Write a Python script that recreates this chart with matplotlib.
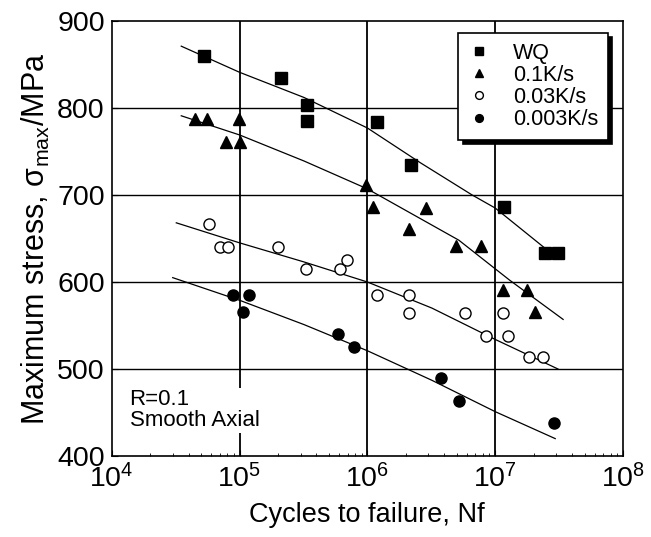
import numpy as np
import matplotlib
matplotlib.use('Agg')
import matplotlib.pyplot as plt

plt.rcParams['font.family'] = ['Liberation Sans', 'DejaVu Sans']
plt.rcParams['mathtext.fontset'] = 'custom'
plt.rcParams['mathtext.rm'] = 'Liberation Sans'
plt.rcParams['mathtext.it'] = 'Liberation Sans'

# data
wq_n = [5.3e4, 2.1e5, 3.4e5, 3.4e5, 1.18e6, 2.2e6, 1.18e7, 2.47e7, 3.1e7]
wq_s = [860, 834, 803, 785, 784, 735, 686, 633, 633]

k01_n = [4.5e4, 5.6e4, 9.9e4, 7.8e4, 1.0e5, 9.8e5, 1.1e6, 2.9e6, 2.1e6, 4.9e6, 7.8e6, 1.15e7, 1.77e7, 2.05e7]
k01_s = [787, 787, 787, 761, 761, 711, 686, 685, 661, 641, 641, 591, 591, 566]

k003_n = [5.8e4, 7.0e4, 8.1e4, 2.0e5, 3.3e5, 6.1e5, 6.9e5, 1.18e6, 2.1e6, 2.1e6, 5.8e6, 1.15e7, 8.5e6, 1.25e7, 1.83e7, 2.35e7]
k003_s = [667, 640, 640, 640, 615, 615, 625, 585, 585, 564, 564, 564, 538, 538, 514, 514]

k0003_n = [8.9e4, 1.18e5, 1.07e5, 5.9e5, 7.8e5, 3.8e6, 5.2e6, 2.9e7]
k0003_s = [585, 585, 566, 540, 525, 490, 463, 438]

# fitted curves
wq_fit_n = [3.5e4, 1e5, 3.2e5, 1e6, 2.6e6, 6.6e6, 1e7, 2.8e7]
wq_fit_s = [871, 841, 812, 777, 737, 700, 685, 632]
k01_fit_n = [3.5e4, 1e5, 3.2e5, 1e6, 5.2e6, 1.3e7, 3.4e7]
k01_fit_s = [791, 769, 739, 707, 648, 602, 557]
k003_fit_n = [3.2e4, 1e5, 3.2e5, 1e6, 3.2e6, 1e7, 3.1e7]
k003_fit_s = [668, 645, 623, 600, 570, 534, 500]
k0003_fit_n = [3.0e4, 1e5, 3.2e5, 1e6, 3.2e6, 1e7, 2.95e7]
k0003_fit_s = [605, 579, 551, 521, 487, 451, 420]

fig = plt.figure(figsize=(6.51, 5.37), dpi=100)
ax = fig.add_axes([0.1716, 0.1508, 0.7854, 0.8102])
ax.set_xscale('log')
ax.set_xlim(1e4, 1e8)
ax.set_ylim(400, 900)

for v in [1e5, 1e6, 1e7]:
    ax.axvline(v, color='black', lw=1.3, zorder=1)
for v in [500, 600, 700, 800]:
    ax.axhline(v, color='black', lw=1.0, zorder=1)

for n, s in [(wq_fit_n, wq_fit_s), (k01_fit_n, k01_fit_s), (k003_fit_n, k003_fit_s), (k0003_fit_n, k0003_fit_s)]:
    ax.plot(n, s, color='black', lw=0.9, zorder=2)

ax.plot(wq_n, wq_s, 's', color='black', ms=8.5, ls='none', label='WQ', zorder=3)
ax.plot(k01_n, k01_s, '^', color='black', ms=8.5, ls='none', label='0.1K/s', zorder=3)
ax.plot(k003_n, k003_s, 'o', mfc='white', mec='black', mew=1.0, ms=8, ls='none', label='0.03K/s', zorder=3)
ax.plot(k0003_n, k0003_s, 'o', color='black', ms=8, ls='none', label='0.003K/s', zorder=3)

leg = ax.legend(loc='upper right', bbox_to_anchor=(0.971, 0.972), fontsize=15.5, markerscale=0.7,
                handlelength=1.0, handletextpad=1.1, labelspacing=0.05, borderpad=0.45,
                borderaxespad=0, fancybox=False, framealpha=1, edgecolor='black',
                shadow={'color': 'black', 'alpha': 1, 'ox': 3, 'oy': -3})
leg.get_frame().set_linewidth(1.2)

ax.text(0.035, 0.105, 'R=0.1\nSmooth Axial', transform=ax.transAxes, fontsize=16,
        ha='left', va='center', linespacing=1.0, zorder=4,
        bbox=dict(facecolor='white', edgecolor='none', pad=1))

ax.set_yticks([400, 500, 600, 700, 800, 900])
ax.set_xticks([1e4, 1e5, 1e6, 1e7, 1e8])
ax.tick_params(axis='both', which='major', direction='in', length=4, labelsize=20.5)
ax.tick_params(axis='both', which='minor', direction='in', length=2)
ax.tick_params(axis='y', pad=5)
ax.tick_params(axis='x', pad=6)
ax.set_xlabel('Cycles to failure, Nf', fontsize=19.5, labelpad=6)
ax.set_ylabel(r'Maximum stress, σ$_{\rm max}$/MPa', fontsize=22, labelpad=4)
for sp in ax.spines.values():
    sp.set_linewidth(1.2)

fig.savefig('out.png', dpi=100)
